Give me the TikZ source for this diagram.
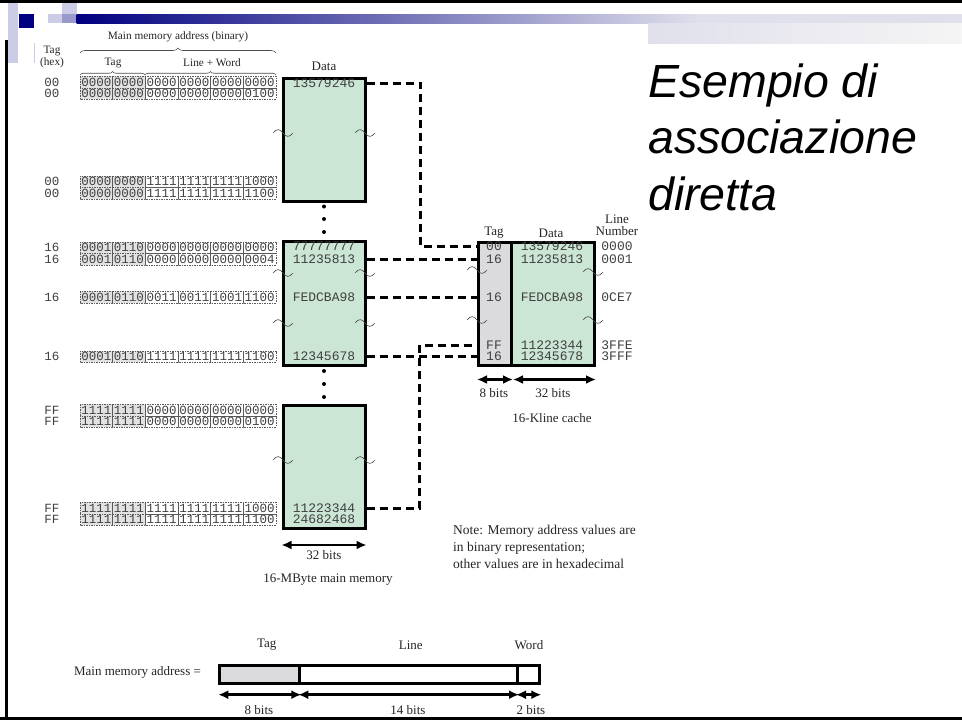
\documentclass[tikz,border=0pt]{standalone}
\usepackage{fontspec}
\setmainfont{Liberation Serif}
\setmonofont{Liberation Mono}
\newfontfamily\titlefont{Liberation Sans}
\usetikzlibrary{arrows.meta,decorations.pathreplacing}

\definecolor{memgreen}{RGB}{204,230,213}
\definecolor{taggray}{RGB}{219,219,222}
\definecolor{cellgray}{RGB}{226,226,226}
\definecolor{navy}{RGB}{0,0,128}
\definecolor{lavlight}{RGB}{204,204,230}
\definecolor{lavmid}{RGB}{153,153,204}
\definecolor{barlight}{RGB}{224,224,236}

% one row of the address table: name, y, tag (hex), bit groups
\newcommand{\addrrow}[4]{%
  \node[mono] (#1tag) at (52,#2) {#3};
  \fill[cellgray] (80,#2-5.75) rectangle (145.33,#2+5.75);
  \foreach \g [count=\i from 0] in {#4}{
    \draw[cell] ({80+\i*32.67},#2-5.75) rectangle ++(32.67,11.5);
    \node[mono] (#1g\i) at ({96.33+\i*32.67},#2) {\g};
  }
}
% wavy break mark
\newcommand{\brk}[2]{%
  \draw[line width=0.6pt,black!70] (#1-10,#2) .. controls (#1-6,#2-5) and (#1-3,#2-4) .. (#1,#2)
    .. controls (#1+3,#2+4) and (#1+6,#2+5) .. (#1+10,#2);
}

\begin{document}
\begin{tikzpicture}[x=1pt,y=-1pt,>={Latex[length=10pt,width=9pt]},
  lbl/.style={inner sep=0pt,font=\fontsize{13}{13}\selectfont,text=black!85},
  hdr/.style={inner sep=0pt,font=\fontsize{11.3}{11.3}\selectfont,text=black!85},
  mono/.style={inner sep=0pt,font=\ttfamily\fontsize{12.5}{12.5}\selectfont,text=black!75},
  dataval/.style={inner sep=0pt,font=\ttfamily\fontsize{13}{13}\selectfont,text=black!75},
  cell/.style={black!65,line width=0.5pt,dash pattern=on 1.5pt off 1pt},
  membox/.style={draw,line width=3pt,fill=memgreen,minimum width=82pt,inner sep=0pt,anchor=north},
  cachecol/.style={draw,line width=3pt,minimum height=123pt,inner sep=0pt,anchor=north west},
  link/.style={line width=3pt,dash pattern=on 8pt off 5pt},
  bits/.style={<->,line width=2.5pt},
  field/.style={draw,line width=3pt,minimum height=17.7pt,inner sep=0pt,anchor=north west},
  hbrace/.style={decorate,decoration={brace,amplitude=5pt},line width=0.6pt,black!70},
  sbrace/.style={decorate,decoration={brace,amplitude=3.5pt},line width=0.6pt,black!70},
  titletxt/.style={inner sep=0pt,anchor=base west,font=\titlefont\itshape\fontsize{46.5}{46.5}\selectfont}]

\fill[white] (0,0) rectangle (962,720);
\useasboundingbox (0,0) rectangle (962,720);

% slide frame and header bar
\fill (0,0) rectangle (962,2.5);
\fill (0,717) rectangle (962,720);
\fill (4.5,40) rectangle (7.5,720);
\fill[lavlight] (7.5,2.5) rectangle (18,63);
\fill[navy] (19.3,14) rectangle (34,28.3);
\fill[lavlight] (48.3,14) rectangle (61.7,23.3);
\fill[lavlight] (61.7,2.5) rectangle (76.7,14);
\fill[lavmid] (61.7,14) rectangle (76.7,23.3);
\shade[left color=navy,right color=barlight] (76.7,14) rectangle (700,23.3);
\fill[barlight] (700,14) rectangle (962,23.3);
\shade[left color=barlight,right color=black!4] (648,23.3) rectangle (962,43);
\fill[lavlight] (33.5,43) rectangle (35,63);

% title
\node[titletxt] (title1) at (648,97.3) {Esempio di};
\node[titletxt] (title2) at (648,153.3) {associazione};
\node[titletxt] (title3) at (648,210) {diretta};

% column headings
\node[hdr] (hextag) at (52,51) {Tag};
\node[hdr] (hexlbl) at (52,63) {(hex)};
\node[hdr] (mainaddr) at (178,37) {Main memory address (binary)};
\draw[hbrace] (80,53) -- (276,53);
\node[hdr] (tagcol) at (113,63) {Tag};
\node[hdr] (lwcol) at (212,63) {Line + Word};
\draw[sbrace] (80,75) -- (145,75);
\draw[sbrace] (145,75) -- (276,75);
\node[lbl] (datahdr) at (324,66) {Data};

% address table
\addrrow{ra}{82}{00}{0000,0000,0000,0000,0000,0000}
\addrrow{rb}{93.5}{00}{0000,0000,0000,0000,0000,0100}
\addrrow{rc}{181.5}{00}{0000,0000,1111,1111,1111,1000}
\addrrow{rd}{193}{00}{0000,0000,1111,1111,1111,1100}
\addrrow{re}{247.5}{16}{0001,0110,0000,0000,0000,0000}
\addrrow{rf}{259}{16}{0001,0110,0000,0000,0000,0004}
\addrrow{rg}{297}{16}{0001,0110,0011,0011,1001,1100}
\addrrow{rh}{356.5}{16}{0001,0110,1111,1111,1111,1100}
\addrrow{ri}{410}{FF}{1111,1111,0000,0000,0000,0000}
\addrrow{rj}{421.5}{FF}{1111,1111,0000,0000,0000,0100}
\addrrow{rk}{508}{FF}{1111,1111,1111,1111,1111,1000}
\addrrow{rl}{519.5}{FF}{1111,1111,1111,1111,1111,1100}

% main memory
\node[membox,minimum height=123.5pt] (mem1) at (324,76.5) {};
\node[membox,minimum height=123.5pt] (mem2) at (324,240) {};
\node[membox,minimum height=123pt] (mem3) at (324,403.5) {};
\node[dataval] (m1d1) at (324,83) {13579246};
\node[dataval] (m2d1) at (324,246.5) {77777777};
\node[dataval] (m2d2) at (324,259) {11235813};
\node[dataval] (m2d3) at (324,297) {FEDCBA98};
\node[dataval] (m2d4) at (324,356.5) {12345678};
\node[dataval] (m3d1) at (324,508) {11223344};
\node[dataval] (m3d2) at (324,519.5) {24682468};
\foreach \y in {206.5,219,232,371,384,397}
  \fill (324,\y) circle[radius=2];
\foreach \y in {133,273,323,460}{
  \brk{283}{\y}
  \brk{365}{\y}
}
\draw[bits] ([yshift=-15.5pt]mem3.south west) -- ([yshift=-15.5pt]mem3.south east);
\node[lbl] (mbits) at (324,555) {32 bits};
\node[lbl] (mcap) at (328,580) {16-MByte main memory};

% cache
\node[cachecol,fill=taggray,minimum width=33pt] (ctag) at (477,241) {};
\node[cachecol,fill=memgreen,minimum width=83pt] (cdata) at (510,241) {};
\node[lbl] (ctaghdr) at (494,233) {Tag};
\node[lbl] (cdatahdr) at (551,233) {Data};
\node[lbl] (clinehdr) at (617,219) {Line};
\node[lbl] (cnumhdr) at (617,231) {Number};
\foreach \t/\d/\l/\y [count=\n] in {00/13579246/0000/246.5,16/11235813/0001/259,
    16/FEDCBA98/0CE7/297,FF/11223344/3FFE/345,16/12345678/3FFF/356.5}{
  \node[dataval] (ct\n) at (494,\y) {\t};
  \node[dataval] (cd\n) at (552,\y) {\d};
  \node[dataval] (cl\n) at (617,\y) {\l};
}
\brk{477}{270}
\brk{477}{320}
\brk{593}{272}
\brk{593}{320}
\draw[bits] ([yshift=-12.5pt]ctag.south west) -- ([yshift=-12.5pt]ctag.south east);
\draw[bits] ([yshift=-12.5pt,xshift=3pt]cdata.south west) -- ([yshift=-12.5pt]cdata.south east);
\node[lbl] (tbits) at (494,393) {8 bits};
\node[lbl] (dbits) at (553,393) {32 bits};
\node[lbl] (ccap) at (552,418) {16-Kline cache};

% mapping of memory lines to cache lines
\draw[link] (m1d1 -| mem1.east) -- ++(54,0) |- (ct1 -| ctag.west);
\draw[link] (m2d2 -| mem2.east) -- (ct2 -| ctag.west);
\draw[link] (m2d3 -| mem2.east) -- (ct3 -| ctag.west);
\draw[link] (m2d4 -| mem2.east) -- (ct5 -| ctag.west);
\draw[link] (m3d1 -| mem3.east) -- ++(53,0) |- (ct4 -| ctag.west);

% note
\node[lbl,anchor=base west,font=\fontsize{13.5}{13.5}\selectfont] (note1) at (453,534) {Note: Memory address values are};
\node[lbl,anchor=base west,font=\fontsize{13.5}{13.5}\selectfont] (note2) at (453,551) {in binary representation;};
\node[lbl,anchor=base west,font=\fontsize{13.5}{13.5}\selectfont] (note3) at (453,568) {other values are in hexadecimal};

% address format
\node[lbl] (addrlbl) at (137.5,672) {Main memory address =};
\node[field,fill=taggray,minimum width=80pt] (ftag) at (218.3,664) {};
\node[field,minimum width=217.7pt] (fline) at (298.3,664) {};
\node[field,minimum width=22.3pt] (fword) at (516,664) {};
\node[lbl] (ftaghdr) at (266.7,645) {Tag};
\node[lbl] (flinehdr) at (410.8,645) {Line};
\node[lbl] (fwordhdr) at (529,645) {Word};
\draw[bits] ([yshift=-10pt]ftag.south west) -- ([yshift=-10pt]ftag.south east);
\draw[bits] ([yshift=-10pt]fline.south west) -- ([yshift=-10pt]fline.south east);
\draw[bits] ([yshift=-10pt]fword.south west) -- ([yshift=-10pt]fword.south east);
\node[lbl] (ftagbits) at (259,710) {8 bits};
\node[lbl] (flinebits) at (408,710) {14 bits};
\node[lbl] (fwordbits) at (531,710) {2 bits};

\end{tikzpicture}
\end{document}
